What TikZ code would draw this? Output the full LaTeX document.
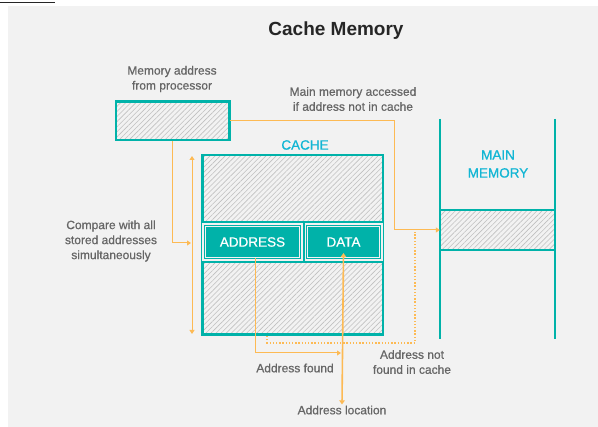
\documentclass[tikz,border=0pt]{standalone}
\usepackage{fontspec}
\setmainfont{Liberation Sans}
\newfontfamily\medfont[FakeBold=0.7]{Liberation Sans}
\usetikzlibrary{arrows.meta,patterns.meta}
\definecolor{cmteal}{RGB}{0,178,169}
\definecolor{cmcyan}{RGB}{18,182,212}
\definecolor{cmorange}{RGB}{253,186,84}
\definecolor{cmgray}{RGB}{102,102,102}
\definecolor{cmbg}{RGB}{242,242,242}
\definecolor{cmhatch}{RGB}{192,192,192}
\begin{document}
\begin{tikzpicture}[
        x=1pt, y=-1pt,
        hatch/.style={pattern={Lines[angle=45,distance=3.6pt,line width=0.6pt]}, pattern color=cmhatch},
        label/.style={text=cmgray, font=\medfont\fontsize{12}{15}\selectfont, align=center, inner sep=1pt},
        head/.style={text=cmcyan, font=\medfont\fontsize{13.5}{18}\selectfont, align=center, inner sep=1pt},
        box/.style={draw=cmteal, line width=2.5pt, hatch, inner sep=0pt},
        key/.style={fill=cmteal, draw=cmteal, line width=1.2pt, double=cmbg, double distance=1pt,
          text=white, font=\medfont\fontsize{13.5}{16}\selectfont, inner sep=0pt, minimum height=31pt},
        wall/.style={draw=cmteal, line width=2.5pt},
        flow/.style={draw=cmorange, line width=1pt, -{Triangle[length=4pt,width=5pt]}},
        miss/.style={draw=cmorange, line width=1.3pt, dash pattern=on 1.3pt off 1.9pt}
      ]
      % 画布与背景
      \useasboundingbox (0,0) rectangle (598,427);
      \fill[white] (0,0) rectangle (598,427);
      \fill[cmbg] (8,6) rectangle (598,427);
      \draw[black!85, line width=1pt] (0,3) -- (55,3);
      % 标题
      \node[font=\bfseries\fontsize{19}{22}\selectfont, text=black!85] (title) at (336,31) {Cache Memory};
      % 处理器地址框
      \node[label] (proclbl) at (172,79) {Memory address\\from processor};
      \node[box, minimum width=113.5pt, minimum height=38.5pt] (proc) at (172.5,121) {};
      % 主存访问说明
      \node[label] (mainlbl) at (353,99) {Main memory accessed\\if address not in cache};
      % 缓存
      \node[head] (cachelbl) at (305,145) {CACHE};
      \node[box, minimum width=180.5pt, minimum height=179.5pt] (cache) at (292.5,245) {};
      \fill[cmbg] (202,222) rectangle (383,262);
      \draw[wall, line width=2pt] (202,222) -- (383,222) (202,262) -- (383,262) (303.5,222) -- (303.5,262);
      \node[key, minimum width=94pt] (addr) at (252.5,242) {ADDRESS};
      \node[key, minimum width=72pt] (data) at (343.5,242) {DATA};
      % 主存
      \node[head] (memlbl) at (498,164) {MAIN\\MEMORY};
      \node[hatch, minimum width=115pt, minimum height=40pt, inner sep=0pt] (slot) at (497.5,230) {};
      \draw[wall] (440,119) -- (440,339) (555,119) -- (555,339);
      \draw[wall] (slot.north west) -- (slot.north east) (slot.south west) -- (slot.south east);
      % 比较范围双箭头
      \coordinate (cmptop) at (192,156);
      \coordinate (cmpbot) at (192,334);
      \coordinate (cmpin) at (191,243);
      \draw[flow, {Triangle[length=4pt,width=5pt]}-{Triangle[length=4pt,width=5pt]}] (cmptop) -- (cmpbot);
      \node[label] (cmplbl) at (111,241) {Compare with all\\stored addresses\\simultaneously};
      \draw[flow] (proc.south) |- (cmpin);
      % 未命中时访问主存
      \coordinate (turn) at (394,121);
      \draw[flow] (proc.east) -- (turn) |- (slot.west);
      % 命中
      \coordinate (foundpt) at (341,353);
      \draw[flow] ([xshift=2.5pt]addr.south) |- (foundpt);
      \node[label] (foundlbl) at (295,368) {Address found};
      % 数据位置
      \node[label] (loclbl) at (342,410) {Address location};
      \draw[flow, line width=1.6pt, {Triangle[length=4pt,width=5.5pt]}-{Triangle[length=4pt,width=5.5pt]}]
        (loclbl.north) -- ([yshift=5pt]data.south);
      % 未命中虚线
      \coordinate (missb) at (415,343);
      \coordinate (missc) at (415,232);
      \draw[miss] ([xshift=-25.5pt]cache.south) |- (missb) -- (missc);
      \node[label] (misslbl) at (412,362) {Address not\\found in cache};
\end{tikzpicture}
\end{document}
